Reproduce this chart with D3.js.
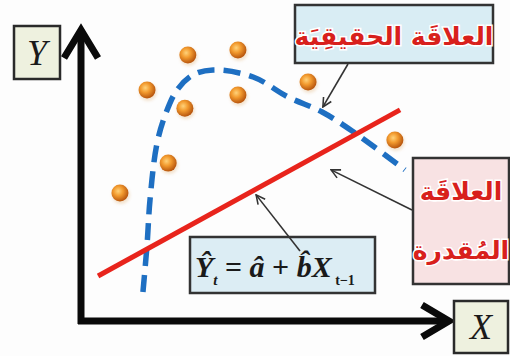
<!DOCTYPE html>
<html>
<head>
<meta charset="utf-8">
<script src="https://cdn.jsdelivr.net/npm/d3@7"></script>
<style>
  html, body { margin: 0; padding: 0; background: #fdfdfd; }
  svg { display: block; }
</style>
</head>
<body>
<svg id="chart" width="510" height="356"></svg>
<script>
// Observed sample (x, y) in plot units 0..100
const pointX = [10.5, 17.8, 23.5, 28.8, 28.0, 42.3, 42.3, 61.2, 84.6];
const pointY = [43.5, 78.6, 53.7, 90.5, 72.4, 92.2, 76.9, 81.3, 61.6];

// True (non-linear) relationship
const curveX = [16.7, 17.8, 18.6, 20.5, 23.0, 25.9, 30.2, 35.6, 46.4, 55.8, 65.0, 73.9, 87.3];
const curveY = [9.9, 25.9, 41.2, 60.5, 71.1, 78.6, 83.7, 85.4, 83.0, 76.2, 71.1, 63.9, 51.4];

// Estimated linear relationship (end points)
const fitX = [4.6, 86.0];
const fitY = [15.3, 71.8];

// Labels
const axisLabels = { x: "X", y: "Y" };
const trueLabel = "العلاقَة الحقيقِيَة";
const estLabel = ["العلاقَة", "المُقدرة"];

const svg = d3.select("#chart");
const x = d3.scaleLinear().domain([0, 100]).range([81, 452]);
const y = d3.scaleLinear().domain([0, 100]).range([321, 27]);

const defs = svg.append("defs");
const grad = defs.append("radialGradient").attr("id", "ball")
  .attr("cx", "40%").attr("cy", "38%").attr("r", "62%");
grad.append("stop").attr("offset", "0%").attr("stop-color", "#ffd27a");
grad.append("stop").attr("offset", "45%").attr("stop-color", "#f29a2e");
grad.append("stop").attr("offset", "100%").attr("stop-color", "#b8560e");
const blur = defs.append("filter").attr("id", "soft").attr("x", "-50%").attr("y", "-50%").attr("width", "200%").attr("height", "200%");
blur.append("feGaussianBlur").attr("stdDeviation", 1.6);

defs.append("marker").attr("id", "head")
  .attr("viewBox", "0 0 10 10").attr("refX", 9).attr("refY", 5)
  .attr("markerWidth", 7).attr("markerHeight", 7).attr("orient", "auto")
  .attr("markerUnits", "strokeWidth")
  .append("path").attr("d", "M1,1 L9,5 L1,9").attr("fill", "none")
  .attr("stroke", "#333").attr("stroke-width", 1.4);

// Axes as thick arrows
const axisG = svg.append("g").attr("fill", "none").attr("stroke", "#0a0a0a")
  .attr("stroke-width", 7).attr("stroke-linejoin", "miter").attr("stroke-linecap", "butt");
axisG.append("line").attr("x1", x(0)).attr("y1", y(0) + 3).attr("x2", x(0)).attr("y2", y(100) + 4);
axisG.append("line").attr("x1", x(0) - 3).attr("y1", y(0)).attr("x2", x(100) - 4).attr("y2", y(0));
axisG.append("polyline").attr("points", [[x(0) - 17, y(100) + 31], [x(0), y(100) + 3], [x(0) + 17, y(100) + 31]].join(" "));
axisG.append("polyline").attr("points", [[x(100) - 30, y(0) - 16], [x(100) - 3, y(0)], [x(100) - 30, y(0) + 16]].join(" "));

// Axis label boxes
function axisBox(bx, by, w, h, t) {
  svg.append("rect").attr("x", bx).attr("y", by).attr("width", w).attr("height", h)
    .attr("fill", "#eef1df").attr("stroke", "#2a2a2a").attr("stroke-width", 2.5);
  svg.append("text").attr("x", bx + w / 2).attr("y", by + h / 2 + 12)
    .attr("text-anchor", "middle").attr("font-family", "Liberation Serif")
    .attr("font-style", "italic").attr("font-size", 36).attr("fill", "#1a1a1a").text(t);
}
axisBox(14, 26, 46, 53, axisLabels.y);
axisBox(454, 301, 54, 52, axisLabels.x);

// Points
const pts = svg.append("g");
pointX.forEach((px, i) => {
  pts.append("circle").attr("cx", x(px) + 1).attr("cy", y(pointY[i]) + 2).attr("r", 9)
    .attr("fill", "#e9c9a0").attr("opacity", 0.5).attr("filter", "url(#soft)");
  pts.append("circle").attr("cx", x(px)).attr("cy", y(pointY[i])).attr("r", 8.5)
    .attr("fill", "url(#ball)");
});

// True relationship: dashed curve
const curve = d3.line().x(d => x(d[0])).y(d => y(d[1])).curve(d3.curveCatmullRom.alpha(0.5));
svg.append("path").datum(d3.zip(curveX, curveY)).attr("d", curve)
  .attr("fill", "none").attr("stroke", "#1e6fc2").attr("stroke-width", 5.5)
  .attr("stroke-dasharray", "17 9");

// Estimated line
svg.append("path").datum(d3.zip(fitX, fitY)).attr("d", d3.line().x(d => x(d[0])).y(d => y(d[1])))
  .attr("fill", "none").attr("stroke", "#e8241c").attr("stroke-width", 5);

// Annotation boxes
const arText = (sel) => sel.attr("font-family", "DejaVu Sans").attr("font-weight", "bold")
  .attr("fill", "#d8201c").attr("stroke", "#ffffff").attr("stroke-width", 3)
  .attr("paint-order", "stroke").attr("text-anchor", "middle").attr("direction", "rtl");

svg.append("rect").attr("x", 295).attr("y", 5).attr("width", 198).attr("height", 58)
  .attr("fill", "#d9edf4").attr("stroke", "#333").attr("stroke-width", 2.5);
svg.append("text").attr("x", 394).attr("y", 45).attr("font-size", 25).call(arText).text(trueLabel);

svg.append("rect").attr("x", 413).attr("y", 158).attr("width", 96).attr("height", 126)
  .attr("fill", "#f8e2e3").attr("stroke", "#333").attr("stroke-width", 2.5);
svg.append("text").attr("x", 461).attr("y", 200).attr("font-size", 25).call(arText).text(estLabel[0]);
svg.append("text").attr("x", 461).attr("y", 259).attr("font-size", 25).call(arText).text(estLabel[1]);

svg.append("rect").attr("x", 190).attr("y", 237).attr("width", 185).attr("height", 56)
  .attr("fill", "#dcedf4").attr("stroke", "#333").attr("stroke-width", 2.5);
const f = svg.append("text").attr("x", 195).attr("y", 277).attr("font-family", "Liberation Serif")
  .attr("font-size", 30).attr("font-weight", "bold").attr("fill", "#1a1a1a");
f.append("tspan").attr("font-style", "italic").text("\u0176");
f.append("tspan").attr("font-style", "italic").attr("font-size", 15).attr("dy", 8).text("t");
f.append("tspan").attr("dy", -8).text(" = ");
f.append("tspan").attr("font-style", "italic").text("\u00e2");
f.append("tspan").text(" + ");
f.append("tspan").attr("font-style", "italic").text("b\u0302X");
f.append("tspan").attr("font-size", 14).attr("dy", 8).text(" t\u22121");

// Pointer arrows from labels to the marks
const arrows = svg.append("g").attr("fill", "none").attr("stroke", "#333").attr("stroke-width", 1.6);
arrows.append("line").attr("x1", 348).attr("y1", 64).attr("x2", x(65.2)).attr("y2", y(72.8)).attr("marker-end", "url(#head)");
arrows.append("line").attr("x1", 412).attr("y1", 210).attr("x2", x(67.4)).attr("y2", y(51.4)).attr("marker-end", "url(#head)");
arrows.append("line").attr("x1", 300).attr("y1", 251).attr("x2", x(47.2)).attr("y2", y(42.9)).attr("marker-end", "url(#head)");
</script>
</body>
</html>
